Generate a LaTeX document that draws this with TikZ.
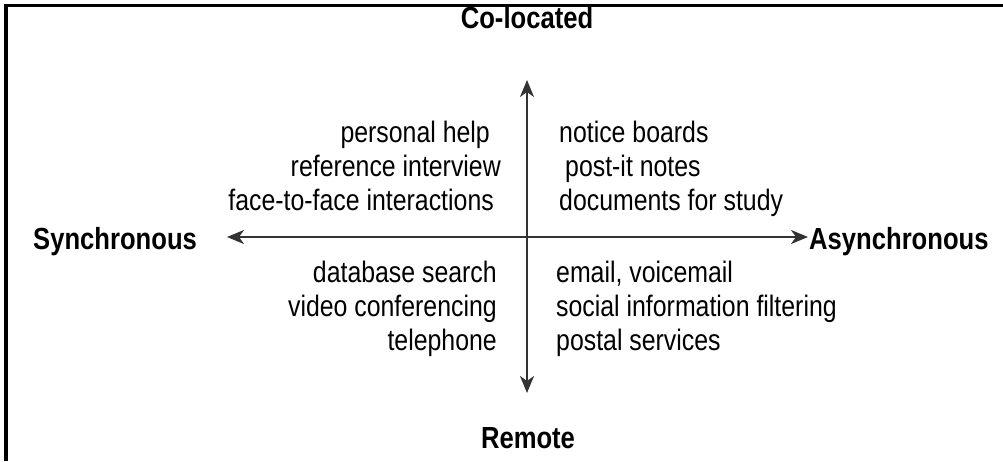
\documentclass[tikz,border=0pt]{standalone}
\usepackage{fontspec}
\setmainfont[FakeStretch=0.84]{Liberation Sans}
\usetikzlibrary{arrows.meta,positioning}

\begin{document}
\begin{tikzpicture}[x=1pt, y=-1pt,
                      axislabel/.style = {
                        font=\fontsize{30.5}{34}\selectfont\bfseries,
                        inner sep=0pt, text=black
                      },
                      item/.style = {
                        font=\fontsize{29.6}{34}\selectfont,
                        inner sep=0pt, text=black
                      },
                      axis/.style = {
                        <->, line width=2pt, draw=black!80,
                        >={Stealth[length=17pt, width=14pt, inset=5pt]}
                      }]
    \useasboundingbox (0,0) rectangle (1003,461);
    \draw[line width=3.5pt] (6,461) -- (6,5.5) -- (1003,5.5);

    \node(colocated)[axislabel, anchor=base] at (527,28) {Co-located};
    \node(remote)[axislabel, anchor=base] at (528,448) {Remote};
    \node(sync)[axislabel, anchor=base west] at (33,249) {Synchronous};
    \node(async)[axislabel, anchor=base west] at (809,249) {Asynchronous};

    \coordinate (north) at (527,80);
    \coordinate (south) at (527,393);
    \coordinate (west) at (227,237);
    \coordinate (east) at (808,237);

    % synchronous side
    \node(personal)[item, anchor=base east] at (490,142) {personal help};
    \node(interview)[item, anchor=base east] at (501,176) {reference interview};
    \node(facetoface)[item, anchor=base east] at (494,210) {face-to-face interactions};
    \node(database)[item, anchor=base east] at (497,282) {database search};
    \node(video)[item, anchor=base east] at (497,316) {video conferencing};
    \node(telephone)[item, anchor=base east] at (497,350) {telephone};

    % asynchronous side
    \node(notice)[item, anchor=base west] at (559,142) {notice boards};
    \node(postit)[item, anchor=base west] at (565,176) {post-it notes};
    \node(documents)[item, anchor=base west] at (559,210) {documents for study};
    \node(email)[item, anchor=base west] at (556,282) {email, voicemail};
    \node(filtering)[item, anchor=base west] at (556,316) {social information filtering};
    \node(postal)[item, anchor=base west] at (556,350) {postal services};

    \draw[axis] (north) -- (south);
    \draw[axis] (west) -- (east);
\end{tikzpicture}
\end{document}
